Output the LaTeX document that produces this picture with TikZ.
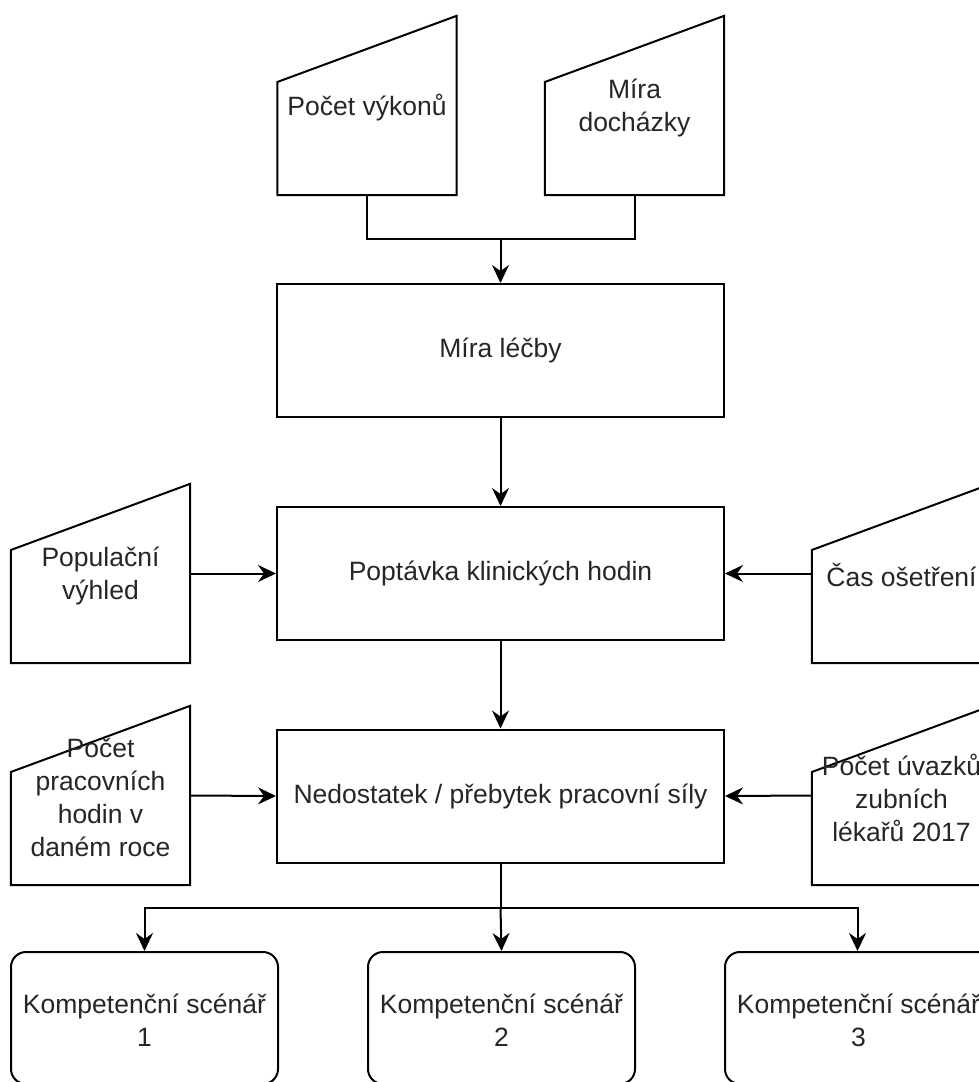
\documentclass[tikz,border=0pt]{standalone}
\usepackage{fontspec}
\setmainfont{Liberation Sans}
\usetikzlibrary{arrows.meta,calc}
\begin{document}
\begin{tikzpicture}[x=1pt,y=-1pt,
  every node/.style={font=\fontsize{26.5}{33}\selectfont, text=black!85, align=center, inner sep=0pt},
  boxnode/.style={draw, line width=2pt, minimum width=447pt, minimum height=133pt},
  manualnode/.style={minimum width=179pt, minimum height=179pt},
  scennode/.style={draw, line width=2pt, rounded corners=15pt, minimum width=267pt, minimum height=132pt},
  shp/.style={draw, line width=2pt, line join=miter},
  conn/.style={draw, line width=2pt, -{Stealth[length=18pt,width=17pt,inset=6pt]}},
  line/.style={draw, line width=2pt}
]
\path[use as bounding box, clip] (0,0) rectangle (979,1082);
\fill[white] (0,0) rectangle (979,1082);

% main boxes
\node[boxnode] (ml) at (500.5,350.5) {\raisebox{-2pt}{Míra léčby}};
\node[boxnode] (pk) at (500.5,573.5) {\raisebox{-2pt}{Poptávka klinických hodin}};
\node[boxnode] (np) at (500.5,796) {\raisebox{-2pt}{Nedostatek / přebytek pracovní síly}};

% manual input shapes
\node[manualnode] (pv) at (367,105.5) {};
\node[manualnode] (md) at (634.5,105.5) {};
\node[manualnode] (pop) at (100.5,573.5) {};
\node[manualnode] (cas) at (901.5,573.5) {};
\node[manualnode] (prac) at (100.5,795.5) {};
\node[manualnode] (uv) at (901.5,795.5) {};

\foreach \n in {pv,md,pop,cas,prac,uv}{
  \draw[shp] (\n.south west) -- (\n.south east) -- (\n.north east) -- ($(\n.north west)!0.369!(\n.south west)$) -- cycle;
}
% labels on top of outlines
\node (pvt) at ([yshift=-2pt]pv.center) {Počet výkonů};
\node (mdt) at ([yshift=-2pt]md.center) {Míra\\docházky};
\node (popt) at ([yshift=-2pt]pop.center) {Populační\\výhled};
\node (cast) at ([yshift=-2pt]cas.center) {Čas ošetření};
\node (pract) at ([yshift=-2pt]prac.center) {Počet\\pracovních\\hodin v\\daném roce};
\node (uvt) at ([yshift=-2pt]uv.center) {Počet úvazků\\zubních\\lékařů 2017};

% scenario boxes
\node[scennode] (s1) at (144.5,1018) {};
\node[scennode] (s2) at (501.5,1018) {};
\node[scennode] (s3) at (858.5,1018) {};
\node (s1t) at ([yshift=-2pt]s1.center) {Kompetenční scénář\\1};
\node (s2t) at ([yshift=-2pt]s2.center) {Kompetenční scénář\\2};
\node (s3t) at ([yshift=-2pt]s3.center) {Kompetenční scénář\\3};

% connectors
\coordinate (j1) at (500.5,239);
\draw[line] (pv.south) |- (j1);
\draw[line] (md.south) |- (j1);
\draw[conn] (j1) -- (ml.north);
\draw[conn] (ml.south) -- (pk.north);
\draw[conn] (pop.east) -- (pk.west);
\draw[conn] (cas.west) -- (pk.east);
\draw[conn] (pk.south) -- (np.north);
\draw[conn] (prac.east) -- (np.west);
\draw[conn] (uv.west) -- (np.east);
\coordinate (j2) at (500.5,908);
\draw[line] (np.south) -- (j2);
\draw[conn] (j2) -| (s1.north);
\draw[conn] (j2) -- (s2.north);
\draw[conn] (j2) -| ([xshift=-1pt]s3.north);
\end{tikzpicture}
\end{document}
